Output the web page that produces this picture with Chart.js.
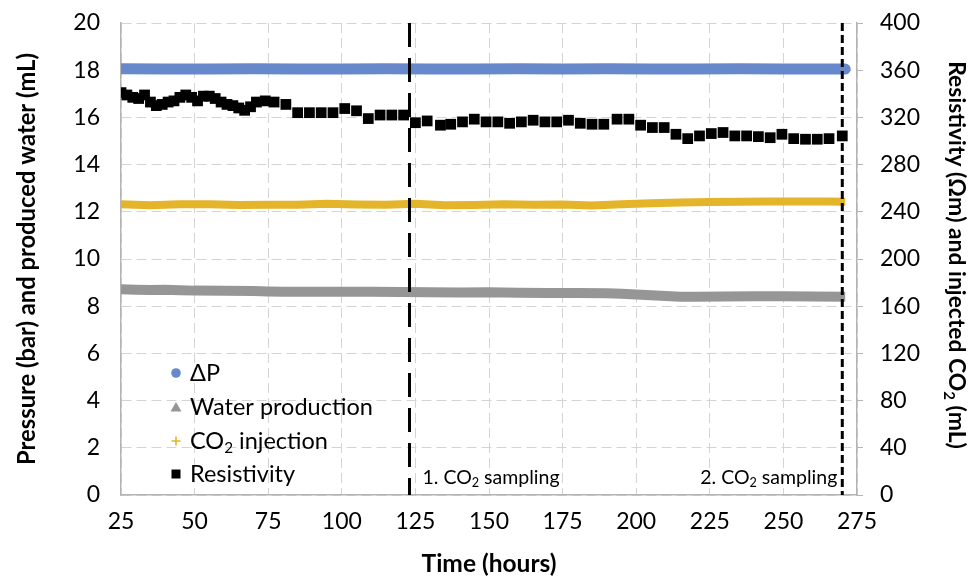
<!DOCTYPE html>
<html>
<head>
<meta charset="utf-8">
<script src="https://cdn.jsdelivr.net/npm/chart.js@4.4.0/dist/chart.umd.min.js"></script>
<style>
  body { margin: 0; background: #fff; }
  #wrap { width: 971px; height: 577px; }
</style>
</head>
<body>
<div id="wrap"><canvas id="chart" width="971" height="577"></canvas></div>
<script>
// values (hours on x)
const dpHours = [25, 40, 55, 70, 85, 100, 115, 130, 145, 160, 175, 190, 205, 220, 235, 250, 265, 271];
const dpValues = [18.06, 18.05, 18.05, 18.06, 18.05, 18.05, 18.06, 18.05, 18.05, 18.06, 18.05, 18.06, 18.05, 18.05, 18.06, 18.05, 18.05, 18.05];

const waterHours = [25, 30, 35, 40, 45, 50, 60, 70, 75, 80, 90, 100, 110, 120, 130, 140, 150, 160, 170, 180, 190, 195, 200, 205, 210, 215, 220, 230, 240, 250, 260, 271];
const waterValues = [8.72, 8.70, 8.69, 8.70, 8.68, 8.66, 8.65, 8.64, 8.62, 8.61, 8.61, 8.61, 8.61, 8.60, 8.59, 8.58, 8.59, 8.57, 8.56, 8.56, 8.55, 8.53, 8.50, 8.46, 8.43, 8.40, 8.40, 8.41, 8.42, 8.42, 8.41, 8.40];

const co2Hours = [25, 35, 45, 55, 65, 75, 85, 95, 105, 115, 125, 135, 145, 155, 165, 175, 185, 195, 205, 215, 225, 235, 245, 255, 265, 271];
const co2Values = [246.5, 245.5, 246.5, 246.5, 245.8, 246, 246, 246.8, 246.2, 246, 246.8, 245.5, 245.8, 246.3, 246, 246.2, 245.4, 246.3, 247.2, 247.8, 248.4, 248.6, 248.7, 248.8, 248.8, 248.6];

const resHours = [25, 27, 29, 31, 33, 35, 37, 39, 41, 43, 45, 47, 49, 51, 53, 55, 57, 59, 61, 63, 65, 67, 69, 71, 74, 77, 81, 85, 89, 93, 97, 101, 105, 109, 113, 117, 121,
  125, 129, 133.5, 137, 141, 145, 149, 153, 157, 161, 165, 169, 173, 177, 181, 185, 189, 193.5, 197.5, 201.5, 205.5, 209.5, 213.5, 217.5, 221.5, 225.5, 229.5, 233.5, 237.5, 241.5, 245.5, 249.5, 253.5, 257.5, 261.5, 265.5, 270];
const resValues = [341, 339, 337, 336, 339, 333, 330, 331, 333, 334, 337, 339, 337, 334, 338, 338, 336, 333, 331, 330, 328, 326, 329, 333, 334, 333, 331, 324, 324, 324, 324, 327.5, 325.6, 319, 322, 322, 322,
  315.5, 317, 313.4, 314.2, 316.2, 318.5, 316.2, 316.2, 315, 316.2, 317.6, 316.2, 316.2, 317.6, 315, 314.2, 314.2, 318.5, 318.5, 313.4, 311.4, 311.4, 305.7, 302, 304.3, 306.3, 307.2, 304.3, 304.3, 303.7, 302.8, 305.7, 302, 301.5, 301.5, 302, 304.3];

const samplingHours = [123, 270];
const samplingLabels = ['1. CO₂ sampling', '2. CO₂ sampling'];

const xTicks = { min: 25, max: 275, step: 25 };
const leftTicks = { min: 0, max: 20, step: 2 };
const rightTicks = { min: 0, max: 400, step: 40 };

const xTitle = 'Time (hours)';
const leftTitle = 'Pressure (bar) and produced water (mL)';
const rightTitle = 'Resistivity (Ωm) and injected CO₂ (mL)';

const colors = { dp: '#6789cc', water: '#969696', co2: '#e4b42a', res: '#000000' };
const FONT = 'Lato, "Open Sans", sans-serif';

function pts(xs, ys) {
    return xs.map((x, i) => ({ x: x, y: ys[i] }));
}

function splitSub(str) {
    const parts = [];
    str.split('₂').forEach((t, i, arr) => {
        if (t) parts.push({ t: t, sub: false });
        if (i < arr.length - 1) parts.push({ t: '2', sub: true });
    });
    return parts;
}

function richWidth(ctx, str, size, weight) {
    let total = 0;
    splitSub(str).forEach(p => {
        ctx.font = weight + ' ' + (p.sub ? size * 0.65 : size) + 'px ' + FONT;
        total += ctx.measureText(p.t).width;
    });
    return total;
}

// text with "₂" drawn as a real subscript
function drawRich(ctx, str, x, y, size, weight, align) {
    const parts = splitSub(str);
    const subSize = size * 0.65;
    const total = richWidth(ctx, str, size, weight);
    let cx = align === 'center' ? x - total / 2 : (align === 'right' ? x - total : x);
    ctx.textAlign = 'left';
    ctx.textBaseline = 'middle';
    parts.forEach(p => {
        ctx.font = weight + ' ' + (p.sub ? subSize : size) + 'px ' + FONT;
        ctx.fillText(p.t, cx, p.sub ? y + size * 0.3 : y);
        cx += ctx.measureText(p.t).width;
    });
}

// pick a size so the title spans about the same length as in the figure
function fitSize(ctx, str, weight, target) {
    return 20 * target / richWidth(ctx, str, 20, weight);
}

const legendItems = [
    { label: 'ΔP', color: colors.dp, marker: 'circle' },
    { label: 'Water production', color: colors.water, marker: 'triangle' },
    { label: 'CO₂ injection', color: colors.co2, marker: 'plus' },
    { label: 'Resistivity', color: colors.res, marker: 'square' }
];

const extrasPlugin = {
    id: 'extras',
    afterDraw(chart) {
        const ctx = chart.ctx;
        const xs = chart.scales.x, yl = chart.scales.y;
        const area = chart.chartArea;
        const midY = (area.top + area.bottom) / 2;
        ctx.save();
        ctx.fillStyle = '#000';

        // sampling labels
        const ly = yl.getPixelForValue(0.75);
        drawRich(ctx, samplingLabels[0], xs.getPixelForValue(samplingHours[0]) + 13, ly, 19.5, 'normal', 'left');
        drawRich(ctx, samplingLabels[1], xs.getPixelForValue(samplingHours[1]) - 5, ly, 19.5, 'normal', 'right');

        // axis titles
        drawRich(ctx, xTitle, 489, 564, fitSize(ctx, xTitle, 'bold', 135), 'bold', 'center');
        ctx.save();
        ctx.translate(27, midY);
        ctx.rotate(-Math.PI / 2);
        drawRich(ctx, leftTitle, 0, 0, fitSize(ctx, leftTitle, 'bold', 412), 'bold', 'center');
        ctx.restore();
        ctx.save();
        ctx.translate(956, midY - 4);
        ctx.rotate(Math.PI / 2);
        drawRich(ctx, rightTitle, 0, 0, fitSize(ctx, rightTitle, 'bold', 388), 'bold', 'center');
        ctx.restore();

        // legend inside the plot
        const mx = 176, tx = 190;
        const rows = [373, 407, 441, 474];
        legendItems.forEach((it, i) => {
            const y = rows[i];
            ctx.fillStyle = it.color;
            ctx.strokeStyle = it.color;
            if (it.marker === 'circle') {
                ctx.beginPath(); ctx.arc(mx, y, 4.8, 0, Math.PI * 2); ctx.fill();
            } else if (it.marker === 'triangle') {
                ctx.beginPath(); ctx.moveTo(mx, y - 5); ctx.lineTo(mx + 5.5, y + 4.5); ctx.lineTo(mx - 5.5, y + 4.5); ctx.closePath(); ctx.fill();
            } else if (it.marker === 'plus') {
                ctx.lineWidth = 1.6;
                ctx.beginPath(); ctx.moveTo(mx - 4.5, y); ctx.lineTo(mx + 4.5, y); ctx.moveTo(mx, y - 4.5); ctx.lineTo(mx, y + 4.5); ctx.stroke();
            } else {
                ctx.fillRect(mx - 4.5, y - 4.5, 9, 9);
            }
            ctx.fillStyle = '#000';
            drawRich(ctx, it.label, tx, y, 23.5, 'normal', 'left');
        });
        ctx.restore();
    }
};

const tickFont = { family: FONT, size: 23 };
const gridDash = [10, 5];

// keep tick label overflow from pushing the plot area around
function noPad(s) {
    s.paddingTop = 0;
    s.paddingBottom = 0;
    s.paddingLeft = 0;
    s.paddingRight = 0;
}

new Chart(document.getElementById('chart'), {
    type: 'scatter',
    data: {
        datasets: [
            {
                label: samplingLabels[0],
                data: [{ x: samplingHours[0], y: leftTicks.max }, { x: samplingHours[0], y: leftTicks.min }],
                yAxisID: 'y', showLine: true, borderColor: '#000', borderWidth: 3, borderDash: [24, 11], pointRadius: 0
            },
            {
                label: samplingLabels[1],
                data: [{ x: samplingHours[1], y: leftTicks.max }, { x: samplingHours[1], y: leftTicks.min }],
                yAxisID: 'y', showLine: true, borderColor: '#000', borderWidth: 3, borderDash: [8, 4], pointRadius: 0
            },
            {
                label: 'Resistivity',
                data: pts(resHours, resValues),
                yAxisID: 'y1', showLine: false, pointStyle: 'rect', pointRadius: 7.6,
                backgroundColor: colors.res, borderColor: colors.res, borderWidth: 0
            },
            {
                label: 'ΔP',
                data: pts(dpHours, dpValues),
                yAxisID: 'y', showLine: true, borderColor: colors.dp, borderWidth: 11, borderCapStyle: 'round', pointRadius: 0
            },
            {
                label: 'Water production',
                data: pts(waterHours, waterValues),
                yAxisID: 'y', showLine: true, borderColor: colors.water, borderWidth: 10, pointRadius: 0
            },
            {
                label: 'CO₂ injection',
                data: pts(co2Hours, co2Values),
                yAxisID: 'y1', showLine: true, borderColor: colors.co2, borderWidth: 8, pointRadius: 0
            }
        ]
    },
    options: {
        responsive: false,
        animation: false,
        devicePixelRatio: 1,
        layout: { padding: { top: 23, left: 0, right: 0, bottom: 0 } },
        plugins: { legend: { display: false }, tooltip: { enabled: false } },
        scales: {
            x: {
                type: 'linear', min: xTicks.min, max: xTicks.max,
                ticks: { stepSize: xTicks.step, font: tickFont, color: '#000', padding: 13, maxRotation: 0 },
                grid: { color: '#d4d4d4', drawTicks: false },
                border: { color: '#b4b4b4', width: 1.5, dash: gridDash },
                afterFit: function (s) { s.height = 82; noPad(s); }
            },
            y: {
                position: 'left', min: leftTicks.min, max: leftTicks.max,
                ticks: { stepSize: leftTicks.step, font: tickFont, color: '#000', padding: 21 },
                grid: { color: '#d4d4d4', drawTicks: false },
                border: { color: '#b4b4b4', width: 1.5, dash: gridDash },
                afterFit: function (s) { s.width = 121; noPad(s); }
            },
            y1: {
                position: 'right', min: rightTicks.min, max: rightTicks.max,
                ticks: { stepSize: rightTicks.step, font: tickFont, color: '#000', padding: 17 },
                grid: { drawOnChartArea: false, drawTicks: true, tickLength: 6, color: '#b4b4b4' },
                border: { color: '#b4b4b4', width: 1.5 },
                afterFit: function (s) { s.width = 114; noPad(s); }
            }
        }
    },
    plugins: [extrasPlugin]
});
</script>
</body>
</html>
